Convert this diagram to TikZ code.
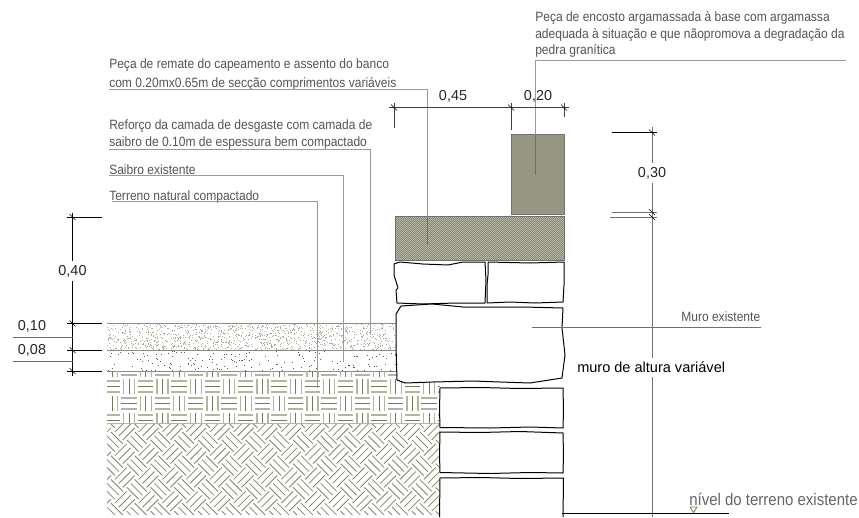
\documentclass[tikz,border=0pt]{standalone}
\usepackage{fontspec}
\setmainfont{Liberation Sans}
\definecolor{olv}{HTML}{77775A}
\definecolor{olvl}{HTML}{B4B4A0}
\definecolor{hfill}{HTML}{D0D0C0}
\definecolor{hline}{HTML}{85856C}
\definecolor{lead}{HTML}{9A9A9A}
\definecolor{dimg}{HTML}{707070}
\definecolor{txtg}{HTML}{555555}
\newcommand{\sz}[1]{\fontsize{#1}{#1}\selectfont}
\newcommand{\tl}[1]{\scalebox{1}[1.12]{#1}}
\tikzset{
  lbl/.style={anchor=base west,inner sep=0pt,text=txtg,font=\sz{9.03}},
  dimt/.style={anchor=base,inner sep=0pt,text=black!85,font=\sz{10.8}},
  dimtf/.style={dimt,fill=white,inner ysep=3pt,inner xsep=1pt},
  leader/.style={draw=lead,line width=0.65pt},
  dimk/.style={draw=black,line width=0.6pt},
  dimgr/.style={draw=dimg,line width=0.75pt},
  stone/.style={draw=black,fill=white,line width=0.75pt,line join=round},
  gline/.style={draw=black!45,line width=0.6pt}
}
\newcommand{\tickm}[1]{\draw[black,line width=0.45pt] ([shift={(-3,-3)}]#1) -- ([shift={(3,3)}]#1);}
\newcommand{\hatchrect}[4]{%
  \fill[hfill] (#1,#2) rectangle (#3,#4);
  \begin{scope}
    \clip (#1,#2) rectangle (#3,#4);
    \foreach \k in {-150,-148,...,300}{
      \draw[hline,line width=0.4pt] (#1+\k,#2) ++(-80,-80) -- ++(240,240);
      \draw[hline,line width=0.4pt] (#1+\k,#2) ++(80,-80) -- ++(-240,240);
    }
  \end{scope}
  \draw[dimg,line width=0.6pt] (#1,#2) rectangle (#3,#4);
}
\begin{document}
\begin{tikzpicture}[x=0.75pt,y=-0.75pt]
\useasboundingbox (0,0) rectangle (859,517);
\fill[white] (0,0) rectangle (859,517);

% ground: sand layer
\pgfmathsetseed{7}
\begin{scope}
\clip (107,323) rectangle (400,371);
\foreach \i in {1,...,1100}{
  \pgfmathsetmacro\pa{107+293*rnd}
  \pgfmathsetmacro\pb{324+26*rnd}
  \fill[olv!60] (\pa,\pb) rectangle +(0.9,0.9);
}
\foreach \i in {1,...,170}{
  \pgfmathsetmacro\pa{107+293*rnd}
  \pgfmathsetmacro\pb{351+20*rnd}
  \fill[black!65] (\pa,\pb) rectangle +(0.8,0.8);
}
\end{scope}
\draw[gline,line width=0.9pt] (107,323.5) -- (400,323.5);
\draw[gline] (107,350) -- (400,350);
\draw[gline] (107,371) -- (400,371);

% basket weave
\begin{scope}
\clip (107,371.5) rectangle (440,423);
\foreach \i in {0,...,20}{
  \foreach \j in {0,...,3}{
    \pgfmathsetmacro\cx{104+16.67*\i+8.33}
    \pgfmathsetmacro\cy{361+17*\j+8.5}
    \pgfmathparse{int(mod(\i+\j,2))}
    \ifnum\pgfmathresult=1
      \draw[olvl,line width=1pt] (\cx-7.6,\cy-5.5) -- (\cx+7.6,\cy-5.5) (\cx-7.6,\cy+5.5) -- (\cx+7.6,\cy+5.5);
      \draw[olv,line width=0.75pt] (\cx-7.6,\cy) -- (\cx+7.6,\cy);
    \else
      \draw[olvl,line width=1pt] (\cx-5.5,\cy-7.6) -- (\cx-5.5,\cy+7.6) (\cx+5.5,\cy-7.6) -- (\cx+5.5,\cy+7.6);
      \draw[olv,line width=0.75pt] (\cx,\cy-7.6) -- (\cx,\cy+7.6);
    \fi
  }
}
\end{scope}
\draw[olvl,line width=1pt] (107,423.5) -- (440,423.5);

% diagonal weave
\begin{scope}
\clip (107,424) rectangle (440,514);
\begin{scope}[shift={(107,424)},rotate=45]
\foreach \i in {-6,...,16}{
  \foreach \j in {-2,...,20}{
    \pgfmathsetmacro\cx{16.8*\i+8.4}
    \pgfmathsetmacro\cy{16.8*\j}
    \pgfmathparse{int(mod(\i+\j+100,2))}
    \ifnum\pgfmathresult=1
      \draw[olv!90,line width=0.6pt] (\cx-8.4,\cy-5.6) -- (\cx+8.4,\cy-5.6) (\cx-8.4,\cy) -- (\cx+8.4,\cy) (\cx-8.4,\cy+5.6) -- (\cx+8.4,\cy+5.6);
    \else
      \draw[olv!90,line width=0.6pt] (\cx-5.6,\cy-8.4) -- (\cx-5.6,\cy+8.4) (\cx,\cy-8.4) -- (\cx,\cy+8.4) (\cx+5.6,\cy-8.4) -- (\cx+5.6,\cy+8.4);
    \fi
  }
}
\end{scope}
\end{scope}

% stones
\draw[stone] (394,264) -- (400,262) -- (423,264) -- (448,265) -- (463,262) -- (485,262) -- (486,280) -- (485,303) -- (456,303) -- (423,304) -- (397,303) -- (396,290) -- (398,288) -- (394,275) -- cycle;
\draw[stone] (488,262) -- (530,263) -- (564,262) -- (564,285) -- (563,302) -- (535,303) -- (510,302) -- (487,303) -- (487,285) -- (488,275) -- cycle;
\draw[stone] (401,306) -- (396,314) -- (396,345) -- (397,380) -- (405,383) -- (433,382) -- (473,381) -- (500,382) -- (530,383) -- (562,378) -- (565,355) -- (562,328) -- (563,308) -- (523,307) -- (463,307) -- (432,304) -- cycle;
\draw[stone] (440,388) -- (480,387.5) -- (520,388.5) -- (563,388) -- (563.5,410) -- (563,428) -- (530,427) -- (490,428) -- (440,427.5) -- (439.5,410) -- cycle;
\draw[stone] (440,432) -- (480,432.5) -- (520,431.5) -- (563,433) -- (563.5,455) -- (563,473) -- (530,472.5) -- (490,473.5) -- (440,472.5) -- (439.5,455) -- cycle;
\draw[stone] (439.5,517) -- (440,478) -- (480,477.5) -- (520,478.5) -- (563.5,478) -- (563,517);

% hatched pieces
\hatchrect{511}{134.5}{564.5}{214.5}
\hatchrect{395.5}{216.5}{564.5}{260}

% labels
\node[lbl] (tE1) at (535,22) {\tl{Peça de encosto argamassada à base com argamassa}};
\node[lbl] (tE2) at (535,38.5) {\tl{adequada à situação e que nãopromova a degradação da}};
\node[lbl] (tE3) at (535,55) {\tl{pedra granítica}};
\node[lbl] (tA1) at (109,69) {\tl{Peça de remate do capeamento e assento do banco}};
\node[lbl] (tA2) at (109,87) {\tl{com 0.20mx0.65m de secção comprimentos variáveis}};
\node[lbl] (tB1) at (109,129) {\tl{Reforço da camada de desgaste com camada de}};
\node[lbl] (tB2) at (109,146.5) {\tl{saibro de 0.10m de espessura bem compactado}};
\node[lbl] (tC) at (109,174) {\tl{Saibro existente}};
\node[lbl] (tD) at (109,200) {\tl{Terreno natural compactado}};
\node[lbl] (tM) at (681,321) {\tl{Muro existente}};

% leader coordinates
\coordinate (e0) at (846,60); \coordinate (e1) at (535.5,60); \coordinate (e2) at (535.5,175); \coordinate (e3) at (535.5,134.5);
\coordinate (a0) at (109,89); \coordinate (a1) at (427.5,89); \coordinate (a2) at (427.5,245); \coordinate (a3) at (427.5,216.5);
\coordinate (b0) at (109,149); \coordinate (b1) at (370,149); \coordinate (b2) at (370,335);
\coordinate (c0) at (109,175.5); \coordinate (c1) at (343.5,175.5); \coordinate (c2) at (343.5,362);
\coordinate (d0) at (112,201.5); \coordinate (d1) at (317,201.5); \coordinate (d2) at (317,388);
\coordinate (m0) at (761,327); \coordinate (m1) at (532,327);
\draw[leader] (e0) -- (e1) -- (e3);
\draw[leader,draw=dimg] (e3) -- (e2);
\draw[leader] (a0) -- (a1) -- (a3);
\draw[leader,draw=dimg] (a3) -- (a2);
\draw[leader] (b0) -- (b1) -- (b2);
\draw[leader] (c0) -- (c1) -- (c2);
\draw[leader] (d0) -- (d1) -- (d2);
\draw[leader,draw=dimg] (m0) -- (m1);

% top dimensions
\coordinate (h1) at (394,107.5); \coordinate (h2) at (511,107.5); \coordinate (h3) at (564,107.5);
\coordinate (h1a) at (389,107.5); \coordinate (h3a) at (569,107.5);
\coordinate (h1t) at (394,103); \coordinate (h1b) at (394,128);
\coordinate (h2t) at (511,103); \coordinate (h2b) at (511,130);
\coordinate (h3t) at (564,103); \coordinate (h3b) at (564,117);
\draw[dimk,draw=black!75] (h1a) -- (h3a);
\draw[dimk,draw=black!75] (h1t) -- (h1b) (h2t) -- (h2b) (h3t) -- (h3b);
\tickm{h1}\tickm{h2}\tickm{h3}
\node[dimt] (d45) at (453,100) {0,45};
\node[dimt] (d20) at (538,100) {0,20};

% right dimensions
\coordinate (r0) at (652,127); \coordinate (r1) at (652,132.5); \coordinate (r2) at (652,212); \coordinate (r3) at (652,217); \coordinate (r4) at (652,517);
\coordinate (r1l) at (612,132.5); \coordinate (r1r) at (657,132.5);
\coordinate (r2l) at (612,212); \coordinate (r2r) at (657,212);
\coordinate (r3l) at (610,217); \coordinate (r3r) at (657,217);
\coordinate (g0) at (562,513.5); \coordinate (g1) at (729,513.5);
\draw[dimgr] (r0) -- (r4);
\draw[dimk] (r1l) -- (r1r);
\draw[dimgr] (r2l) -- (r2r);
\draw[dimgr] (r3l) -- (r3r);
\draw[dimk,line width=0.75pt] (g0) -- (g1);
\tickm{r1}\tickm{r2}\tickm{r3}
\node[dimtf] (d30) at (652,177) {0,30};
\node[anchor=base west,inner xsep=0pt,inner ysep=3pt,fill=white,text=black,font=\sz{10.9}] (tV) at (577,372.5) {muro de altura variável};
\node[anchor=base west,inner sep=0pt,text=black!60,font=\sz{11.25}] (tN) at (689,505) {\tl{nível do terreno existente}};
\coordinate (n1) at (690,507); \coordinate (n2) at (697,507); \coordinate (n3) at (693.5,512.5);
\draw[olv,line width=0.6pt] (n1) -- (n2) -- (n3) -- cycle;

% left dimensions
\coordinate (l0) at (72.5,213); \coordinate (l1) at (72.5,217); \coordinate (l2) at (72.5,323.5); \coordinate (l3) at (72.5,350); \coordinate (l4) at (72.5,371); \coordinate (l5) at (72.5,376);
\draw[dimk] (l0) -- (l5);
\foreach \n/\yy in {1/217,2/323.5,3/350,4/371}{
  \coordinate (la\n) at (67,\yy); \coordinate (lb\n) at (102,\yy);
  \draw[dimk] (la\n) -- (lb\n);
}
\tickm{l1}\tickm{l2}\tickm{l3}\tickm{l4}
\coordinate (x1) at (13,337); \coordinate (x1r) at (72.5,337);
\coordinate (x2) at (13,361); \coordinate (x2r) at (72.5,361);
\draw[dimgr] (x1) -- (x1r);
\draw[dimgr] (x2) -- (x2r);
\node[dimtf] (d40) at (72.5,275) {0,40};
\node[dimt] (d10) at (32,330) {0,10};
\node[dimt] (d08) at (32,354) {0,08};
\end{tikzpicture}
\end{document}
